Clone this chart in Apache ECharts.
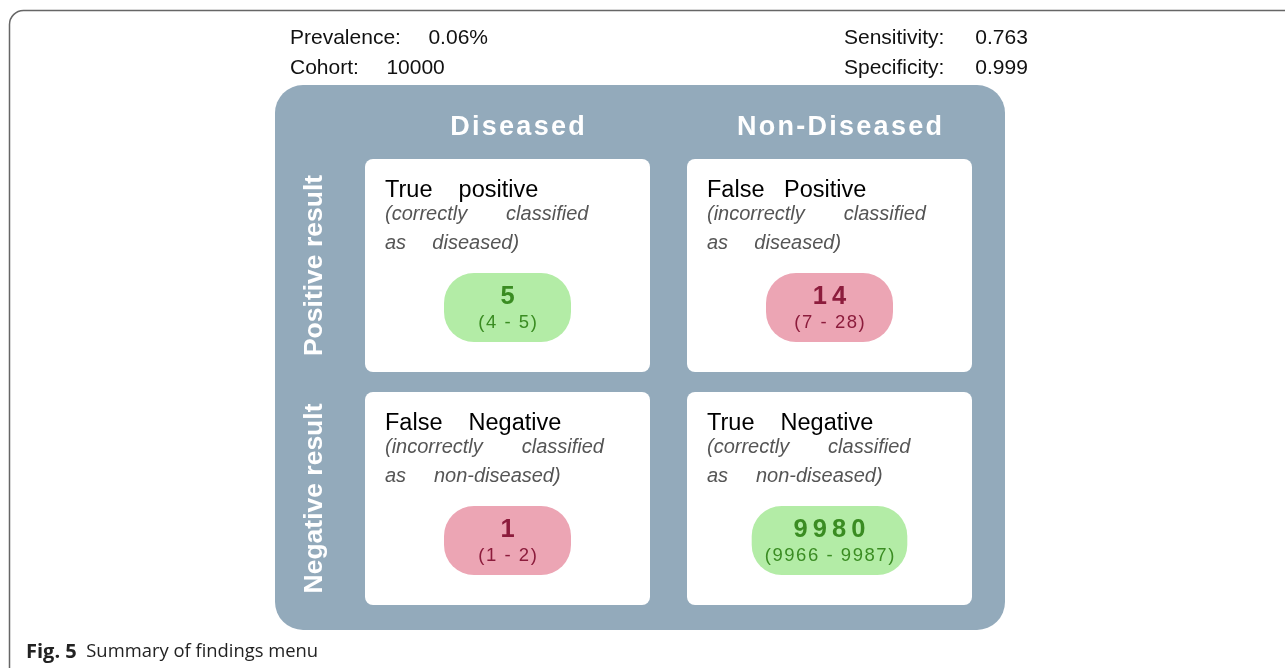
<!DOCTYPE html>
<html><head><meta charset="utf-8">
<script src="https://cdn.jsdelivr.net/npm/echarts@6/dist/echarts.min.js"></script>
<style>html,body{margin:0;padding:0;background:#fff}#c{width:1285px;height:668px}</style>
</head><body><div id="c"></div>
<script>
// ---- data ----
const columns = ['Diseased', 'Non-Diseased'];
const rows = ['Positive result', 'Negative result'];
const statLabels = ['Prevalence:', 'Cohort:', 'Sensitivity:', 'Specificity:'];
const statValues = ['0.06%', '10000', '0.763', '0.999'];
const cellCol = [0, 1, 0, 1];
const cellRow = [0, 0, 1, 1];
const cellTitles = ['True    positive', 'False   Positive', 'False    Negative', 'True    Negative'];
const cellSub1 = ['(correctly       classified', '(incorrectly       classified', '(incorrectly       classified', '(correctly       classified'];
const cellSub2 = ['as    \u2009diseased)', 'as    \u2009diseased)', 'as     non-diseased)', 'as     non-diseased)'];
const counts = [5, 14, 1, 9980];
const lower = [4, 7, 1, 9966];
const upper = [5, 28, 2, 9987];
const correct = [true, false, false, true];
const captionBold = 'Fig. 5';
const captionText = 'Summary of findings menu';

// ---- helpers ----
const SANS = '"Liberation Sans", Arial, sans-serif';
const spaced = (s, ch) => s.split('').join(ch);
const mctx = document.createElement('canvas').getContext('2d');
function measure(text, font) { mctx.font = font; return mctx.measureText(text).width; }

const chart = echarts.init(document.getElementById('c'), null, { renderer: 'canvas' });

const cellData = counts.map((v, i) => [cellCol[i], cellRow[i], v]);
const gapL = '    \u2009';
const gapR = '     \u200A';
const statFont = '21px ' + SANS;

const option = {
  animation: false,
  backgroundColor: '#fff',
  grid: { left: 346.5, top: 149, width: 644, height: 466 },
  xAxis: {
    type: 'category', data: columns.map(c => spaced(c, '\u200A')), position: 'top',
    axisLine: { show: false }, axisTick: { show: false }, splitLine: { show: false },
    axisLabel: { interval: 0, color: '#fff', fontWeight: 'bold', fontSize: 27, fontFamily: SANS, margin: 8, padding: [0, 0, 0, 20] }
  },
  yAxis: {
    type: 'category', data: rows, inverse: true,
    axisLine: { show: false }, axisTick: { show: false }, splitLine: { show: false },
    axisLabel: { interval: 0, color: '#fff', fontWeight: 'bold', fontSize: 26.5, fontFamily: SANS, rotate: 90, margin: 18 }
  },
  graphic: [
    { type: 'rect', z: -2, shape: { x: 9.5, y: 10.5, width: 1400, height: 800, r: 14 },
      style: { fill: 'none', stroke: '#666', lineWidth: 1.5 } },
    { type: 'rect', z: -1, shape: { x: 275, y: 85, width: 730, height: 545, r: 28 },
      style: { fill: '#93aabb' } },
    { type: 'text', x: 290, y: 38, style: { text: statLabels[0] + gapL + statValues[0], font: statFont, fill: '#111', verticalAlign: 'middle' } },
    { type: 'text', x: 290, y: 68.5, style: { text: statLabels[1] + gapL + statValues[1], font: statFont, fill: '#111', verticalAlign: 'middle' } },
    { type: 'text', x: 844, y: 38, style: { text: statLabels[2] + gapR + statValues[2], font: statFont, fill: '#111', verticalAlign: 'middle' } },
    { type: 'text', x: 844, y: 68.5, style: { text: statLabels[3] + gapR + statValues[3], font: statFont, fill: '#111', verticalAlign: 'middle' } },
    { type: 'text', x: 26, y: 652, style: {
        text: '{b|' + captionBold + '}  ' + captionText,
        font: '18.4px "Open Sans", sans-serif', fill: '#222', verticalAlign: 'middle',
        rich: { b: { fontWeight: 'bold', fontSize: 20, fontFamily: '"Open Sans", sans-serif', fill: '#222' } } } }
  ],
  series: [{
    type: 'custom', z: 5,
    coordinateSystem: 'cartesian2d',
    data: cellData,
    renderItem(params, api) {
      const i = params.dataIndex;
      const c = api.coord([api.value(0), api.value(1)]);
      const cw = 285, ch = 213;
      const ok = correct[i];
      const fill = ok ? '#b3eca6' : '#eca5b4';
      const ink = ok ? '#3a8c22' : '#8c1c3c';
      const num = spaced(String(api.value(2)), '\u2009');
      const rng = spaced('(' + lower[i] + ' - ' + upper[i] + ')', '\u200A');
      const rngFont = '18.5px ' + SANS;
      const pw = Math.max(127, measure(rng, rngFont) + 26);
      const tx = c[0] - 122.5;
      return {
        type: 'group',
        children: [
          { type: 'rect', shape: { x: c[0] - cw / 2, y: c[1] - ch / 2, width: cw, height: ch, r: 8 }, style: { fill: '#fff' } },
          { type: 'text', x: tx, y: c[1] - 75, style: { text: cellTitles[i], font: '23.5px ' + SANS, fill: '#000', verticalAlign: 'middle' } },
          { type: 'text', x: tx, y: c[1] - 51, style: { text: cellSub1[i], font: 'italic 20px ' + SANS, fill: '#555', verticalAlign: 'middle' } },
          { type: 'text', x: tx, y: c[1] - 22, style: { text: cellSub2[i], font: 'italic 20px ' + SANS, fill: '#555', verticalAlign: 'middle' } },
          { type: 'rect', shape: { x: c[0] - pw / 2, y: c[1] + 42 - 34.5, width: pw, height: 69, r: 30 }, style: { fill: fill } },
          { type: 'text', x: c[0], y: c[1] + 31.5, style: { text: num, font: 'bold 25.5px ' + SANS, fill: ink, align: 'center', verticalAlign: 'middle' } },
          { type: 'text', x: c[0], y: c[1] + 57.5, style: { text: rng, font: rngFont, fill: ink, align: 'center', verticalAlign: 'middle' } }
        ]
      };
    }
  }]
};
chart.setOption(option);
</script>
</body></html>
